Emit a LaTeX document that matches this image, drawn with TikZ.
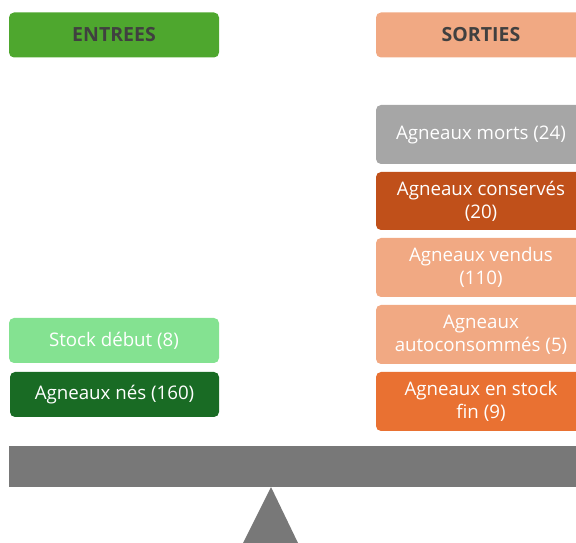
\documentclass[tikz,border=0pt]{standalone}
\usepackage{fontspec}
\setmainfont{Open Sans}
\usetikzlibrary{positioning}
\definecolor{vertent}{HTML}{4EA72E}
\definecolor{vertclair}{HTML}{84E291}
\definecolor{vertfonce}{HTML}{196B24}
\definecolor{saumon}{HTML}{F1A983}
\definecolor{rouille}{HTML}{C0501A}
\definecolor{orange2}{HTML}{E97132}
\definecolor{grismort}{HTML}{A6A6A6}
\definecolor{gristitre}{HTML}{404040}
\definecolor{fleau}{HTML}{787878}

\begin{document}
\begin{tikzpicture}[x=1pt,y=1pt,
    case/.style={rounded corners=5pt,minimum width=210pt,align=center,
        text=white,font={\fontsize{18.7}{23}\selectfont},inner sep=0pt},
    titre/.style={case,minimum height=45pt,text=gristitre,
        font={\fontsize{19.5}{22}\selectfont\bfseries}},
    petite/.style={case,minimum height=45pt},
    grande/.style={case,minimum height=59pt}]
\useasboundingbox (0,0) rectangle (576,543);
\clip (0,0) rectangle (576,543);

\node[titre,fill=vertent] (entrees) at (114,508) {ENTREES};
\node[titre,fill=saumon] (sorties) at (481,508) {SORTIES};

\node[grande,fill=grismort] (morts) at (481,408.5) {Agneaux morts (24)};
\node[grande,fill=rouille,minimum height=58pt] (conserves) at (481,342) {Agneaux conservés\\(20)};
\node[grande,fill=saumon] (vendus) at (481,275.5) {Agneaux vendus\\(110)};
\node[grande,fill=saumon] (autoconso) at (481,208.5) {Agneaux\\autoconsommés (5)};
\node[grande,fill=orange2] (stockfin) at (481,141.5) {Agneaux en stock\\fin (9)};

\node[petite,fill=vertclair] (stockdebut) at (114,202.5) {Stock début (8)};
\node[petite,fill=vertfonce,minimum width=209pt] (nes) at (114.5,148.5) {Agneaux nés (160)};

% fleau de la balance
\fill[fleau] (9,56) rectangle (576,97);
\fill[fleau] (271,56)--(298,0)--(243,0)--cycle;

\end{tikzpicture}
\end{document}
